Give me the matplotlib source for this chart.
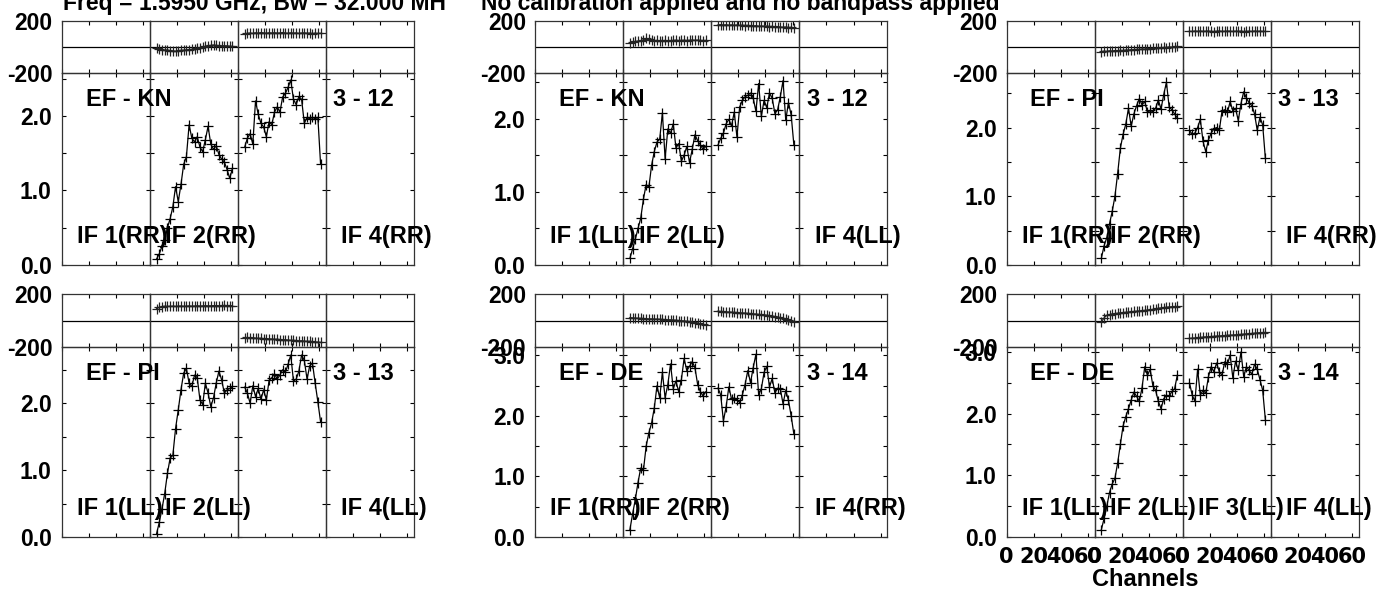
import matplotlib
matplotlib.use("Agg")
import matplotlib.pyplot as plt

plt.rcParams["font.family"] = ["Liberation Sans", "DejaVu Sans"]
plt.rcParams["font.weight"] = "bold"
plt.rcParams["font.size"] = 17

W, H = 1393, 594

channels = [5, 7, 9, 11, 13, 15, 17, 19, 21, 23, 25, 27, 29, 31, 33,
            35, 37, 39, 41, 43, 45, 47, 49, 51, 53, 55, 57, 59, 61]
ch_ticks = [0, 20, 40, 60]
ch_labels = ["0", "20", "40", "60"]

# EF - KN, RR
amp_kn_rr_if2 = [0.08, 0.15, 0.25, 0.33, 0.50, 0.62, 0.78, 1.05, 0.85, 1.08, 1.35, 1.45, 1.88, 1.70, 1.65,
                 1.72, 1.58, 1.52, 1.68, 1.86, 1.62, 1.55, 1.60, 1.48, 1.42, 1.38, 1.28, 1.16, 1.30]
amp_kn_rr_if3 = [1.58, 1.70, 1.76, 1.62, 2.20, 2.02, 1.90, 1.85, 1.72, 1.92, 1.88, 2.05, 2.12, 2.05, 2.25,
                 2.30, 2.38, 2.48, 2.22, 2.15, 2.26, 2.22, 1.90, 1.98, 1.96, 1.98, 1.96, 1.98, 1.35]
ph_kn_rr_if2 = [-8, -15, -20, -25, -22, -28, -30, -32, -28, -25, -24, -22, -20, -18, -15,
                -10, -5, 0, 5, 10, 12, 15, 12, 10, 8, 10, 8, 6, 5]
ph_kn_rr_if3 = [100, 104, 106, 103, 108, 105, 110, 107, 104, 108, 106, 109, 105, 107, 110,
                106, 104, 108, 105, 107, 103, 106, 108, 104, 106, 102, 105, 103, 104]

# EF - KN, LL
amp_kn_ll_if2 = [0.09, 0.22, 0.35, 0.50, 0.64, 0.90, 1.10, 1.06, 1.36, 1.55, 1.68, 1.72, 2.08, 1.45, 1.86,
                 1.80, 1.93, 1.60, 1.66, 1.42, 1.50, 1.62, 1.40, 1.58, 1.78, 1.70, 1.64, 1.58, 1.62]
amp_kn_ll_if3 = [1.64, 1.73, 1.80, 1.93, 1.99, 1.90, 2.09, 1.75, 2.16, 2.25, 2.30, 2.32, 2.35, 2.28, 2.10,
                 2.48, 2.03, 2.25, 2.15, 2.35, 2.28, 2.07, 2.12, 2.30, 2.52, 1.98, 2.22, 2.05, 1.64]
ph_kn_ll_if2 = [30, 38, 42, 45, 48, 55, 65, 60, 52, 48, 50, 47, 48, 50, 46,
                48, 50, 52, 48, 50, 52, 49, 51, 53, 50, 52, 50, 48, 50]
ph_kn_ll_if3 = [168, 170, 167, 169, 166, 168, 165, 167, 164, 166, 163, 165, 162, 160, 162,
                158, 160, 157, 159, 155, 157, 153, 155, 152, 150, 152, 148, 150, 146]

# EF - PI, RR
amp_pi_rr_if2 = [0.10, 0.28, 0.40, 0.60, 0.78, 1.00, 1.33, 1.70, 1.90, 2.05, 2.28, 2.02, 2.20, 2.32, 2.42,
                 2.33, 2.38, 2.22, 2.25, 2.23, 2.28, 2.40, 2.27, 2.48, 2.66, 2.30, 2.26, 2.20, 2.14]
amp_pi_rr_if3 = [1.96, 1.90, 1.92, 2.00, 2.12, 1.80, 1.65, 1.82, 1.92, 1.98, 2.00, 1.96, 2.24, 2.26, 2.22,
                 2.38, 2.24, 2.28, 2.10, 2.35, 2.52, 2.43, 2.36, 2.32, 2.20, 1.96, 2.15, 2.04, 1.55]
ph_pi_rr_if2 = [-35, -31, -34, -29, -31, -27, -29, -25, -27, -23, -24, -20, -22, -18, -19,
                -15, -16, -12, -13, -9, -10, -6, -7, -3, -4, 0, -1, 3, 5]
ph_pi_rr_if3 = [120, 118, 121, 119, 122, 118, 120, 121, 119, 117, 120, 122, 118, 119, 121,
                120, 118, 120, 119, 121, 117, 119, 120, 118, 121, 119, 120, 118, 119]

# EF - PI, LL
amp_pi_ll_if2 = [0.05, 0.22, 0.42, 0.65, 0.95, 1.18, 1.22, 1.62, 1.90, 2.20, 2.45, 2.52, 2.30, 2.25, 2.42,
                 2.38, 2.05, 1.98, 2.30, 2.15, 1.95, 2.08, 2.30, 2.48, 2.35, 2.15, 2.20, 2.22, 2.25]
amp_pi_ll_if3 = [2.24, 2.15, 2.00, 2.26, 2.10, 2.22, 2.06, 2.20, 2.05, 2.34, 2.38, 2.44, 2.36, 2.42, 2.50,
                 2.46, 2.58, 2.72, 2.33, 2.36, 2.48, 2.72, 2.64, 2.36, 2.56, 2.60, 2.30, 2.02, 1.72]
ph_pi_ll_if2 = [90, 100, 105, 108, 106, 107, 108, 106, 108, 109, 107, 108, 110, 108, 109,
                111, 109, 110, 112, 110, 111, 112, 113, 111, 112, 114, 112, 113, 112]
ph_pi_ll_if3 = [-130, -128, -132, -130, -133, -135, -134, -137, -136, -139, -140, -142, -141, -144, -146,
                -145, -148, -150, -149, -152, -154, -153, -156, -158, -157, -160, -162, -163, -165]

# EF - DE, RR
amp_de_rr_if2 = [0.12, 0.38, 0.62, 0.90, 1.14, 1.10, 1.50, 1.72, 1.88, 2.13, 2.50, 2.30, 2.72, 2.30, 2.52,
                 2.86, 2.45, 2.58, 2.40, 2.60, 2.95, 2.75, 2.82, 2.90, 2.80, 2.52, 2.40, 2.33, 2.40]
amp_de_rr_if3 = [2.46, 2.35, 1.92, 2.15, 2.48, 2.28, 2.30, 2.27, 2.22, 2.35, 2.52, 2.75, 2.55, 2.80, 3.02,
                 2.35, 2.45, 2.72, 2.82, 2.48, 2.62, 2.38, 2.46, 2.45, 2.20, 2.42, 2.26, 2.00, 1.70]
ph_de_rr_if2 = [22, 20, 18, 17, 16, 15, 14, 12, 12, 11, 10, 9, 8, 6, 5,
                5, 3, 2, 0, -2, -4, -6, -8, -12, -16, -20, -25, -30, -35]
ph_de_rr_if3 = [70, 68, 67, 65, 64, 62, 61, 60, 58, 57, 55, 54, 52, 50, 48,
                46, 44, 42, 40, 37, 34, 30, 26, 22, 18, 12, 6, 0, -8]

# EF - DE, LL
amp_de_ll_if2 = [0.12, 0.30, 0.50, 0.72, 0.86, 0.95, 1.20, 1.50, 1.80, 1.95, 2.08, 2.22, 2.35, 2.28, 2.20,
                 2.42, 2.76, 2.62, 2.72, 2.45, 2.38, 2.20, 2.08, 2.24, 2.30, 2.28, 2.36, 2.40, 2.62]
amp_de_ll_if3 = [2.50, 2.30, 2.20, 2.72, 2.30, 2.38, 2.33, 2.60, 2.76, 2.68, 2.82, 2.68, 2.62, 2.84, 2.80,
                 2.95, 2.58, 2.85, 2.70, 3.00, 2.60, 2.76, 2.70, 2.64, 2.80, 2.72, 2.55, 2.38, 1.90]
ph_de_ll_if2 = [-10, 20, 40, 45, 50, 52, 55, 58, 60, 62, 63, 65, 68, 70, 72,
                74, 76, 78, 80, 84, 88, 92, 95, 98, 100, 102, 104, 105, 106]
ph_de_ll_if3 = [-135, -133, -132, -130, -128, -126, -124, -122, -121, -120, -118, -117, -115, -114, -112,
                -111, -110, -108, -106, -105, -103, -101, -100, -98, -96, -94, -92, -91, -90]

panels = [
    # col, row, baseline, numbers, pol, amp max, amps, phases, show IF3 label
    (0, 0, "EF - KN", "3 - 12", "RR", 2.57, amp_kn_rr_if2, amp_kn_rr_if3, ph_kn_rr_if2, ph_kn_rr_if3, False),
    (1, 0, "EF - KN", "3 - 12", "LL", 2.62, amp_kn_ll_if2, amp_kn_ll_if3, ph_kn_ll_if2, ph_kn_ll_if3, False),
    (2, 0, "EF - PI", "3 - 13", "RR", 2.79, amp_pi_rr_if2, amp_pi_rr_if3, ph_pi_rr_if2, ph_pi_rr_if3, False),
    (0, 1, "EF - PI", "3 - 13", "LL", 2.84, amp_pi_ll_if2, amp_pi_ll_if3, ph_pi_ll_if2, ph_pi_ll_if3, False),
    (1, 1, "EF - DE", "3 - 14", "RR", 3.14, amp_de_rr_if2, amp_de_rr_if3, ph_de_rr_if2, ph_de_rr_if3, False),
    (2, 1, "EF - DE", "3 - 14", "LL", 3.08, amp_de_ll_if2, amp_de_ll_if3, ph_de_ll_if2, ph_de_ll_if3, True),
]

# layout in pixels
col_left = [61.7, 535.0, 1006.5]
if_w = 88.1
rows = [(20.7, 73.3, 265.0), (294.0, 347.0, 537.0)]  # phase top, phase bottom, amp bottom


def box(x0, y0, x1, y1):
    return [x0 / W, 1 - y1 / H, (x1 - x0) / W, (y1 - y0) / H]


def style(ax):
    ax.patch.set_visible(False)
    ax.set_xlim(0, 65)
    ax.set_xticks(ch_ticks)
    ax.tick_params(which="both", direction="in", top=True, right=True,
                   length=3.2, width=0.8, labelbottom=False, labelleft=False,
                   labelsize=16.5, color="black")
    for s in ax.spines.values():
        s.set_linewidth(0.9)
        s.set_color("#333333")


fig = plt.figure(figsize=(W / 100, H / 100), dpi=100)
labels = []

for col, row, base, nums, pol, ymax, a2, a3, p2, p3, show3 in panels:
    left = col_left[col]
    ptop, pbot, abot = rows[row]
    amps = [None, a2, a3, None]
    phs = [None, p2, p3, None]
    for k in range(4):
        x0 = left + k * if_w
        x1 = x0 + if_w
        axp = fig.add_axes(box(x0, ptop, x1, pbot))
        axa = fig.add_axes(box(x0, pbot, x1, abot))
        style(axp)
        style(axa)

        axp.set_ylim(-200, 200)
        axp.set_yticks([-200, 200])
        axp.set_yticklabels(["-200", "200"])
        axp.tick_params(axis="y", length=0, pad=6.5)
        axp.axhline(0, color="black", lw=0.9)

        axa.set_ylim(0, ymax)
        major = [v for v in [0.0, 1.0, 2.0, 3.0] if v <= ymax]
        axa.set_yticks(major)
        axa.set_yticklabels([f"{v:.1f}" for v in major])
        axa.set_yticks([v for v in [0.5, 1.5, 2.5] if v < ymax], minor=True)
        axa.tick_params(axis="y", pad=7.2)

        if k == 0:
            axp.tick_params(labelleft=True)
            axa.tick_params(labelleft=True)

        if amps[k] is not None:
            axa.plot(channels, amps[k], color="black", lw=0.9, marker="+",
                     ms=7.5, mew=0.9)
            axp.plot(channels, phs[k], color="#222222", lw=0.9, marker="+",
                     ms=7.5, mew=0.9)

        if col == 2 and row == 1:
            axa.set_xticklabels(ch_labels, fontfamily="DejaVu Sans",
                                fontsize=15, fontweight="bold")
            axa.tick_params(axis="x", labelbottom=True, pad=7)

        if k != 2 or show3:
            labels.append((x0 + 15.5, abot - 28, f"IF {k + 1}({pol})"))

    labels.append((left + 24, pbot + 26, base))
    labels.append((left + 3 * if_w + 7.5, pbot + 26, nums))

for x, y, s in labels:
    fig.text(x / W, 1 - y / H, s, ha="left", va="center", zorder=10)

fig.text(1145 / W, 1 - 579 / H, "Channels", ha="center", va="center")
fig.text(63 / W, 1 - 10 / H, "Freq = 1.5950 GHz, Bw = 32.000 MH", ha="left",
         va="baseline", fontsize=16.5)
fig.text(481 / W, 1 - 10 / H, "No calibration applied and no bandpass applied",
         ha="left", va="baseline", fontsize=16.5)

fig.savefig("out.png", dpi=100)
